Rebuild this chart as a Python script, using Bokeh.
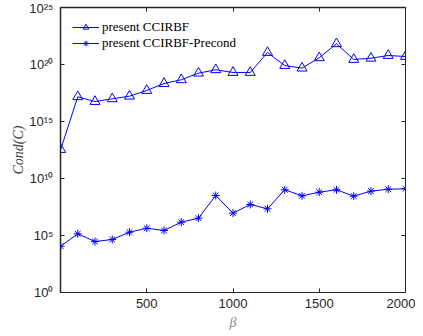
import math
from bokeh.plotting import figure
from bokeh.models import (FixedTicker, LinearAxis, LogAxis, Range1d, Legend, LegendItem,
                          CustomJSTickFormatter)
from bokeh.embed import file_html
from bokeh.resources import INLINE

# ---- data ----
beta = [1, 100, 200, 300, 400, 500, 600, 700, 800, 900, 1000,
        1100, 1200, 1300, 1400, 1500, 1600, 1700, 1800, 1900, 2000]
log_cond_ccirbf = [12.54, 17.17, 16.75, 16.99, 17.22, 17.72, 18.33, 18.66, 19.24, 19.54, 19.30,
                   19.30, 21.05, 19.91, 19.68, 20.59, 21.82, 20.44, 20.55, 20.79, 20.70]
log_cond_precond = [4.06, 5.15, 4.47, 4.65, 5.29, 5.64, 5.44, 6.17, 6.52, 8.51, 6.96,
                    7.72, 7.34, 9.01, 8.48, 8.80, 9.01, 8.45, 8.89, 9.06, 9.10]
cond_ccirbf = [10 ** v for v in log_cond_ccirbf]
cond_precond = [10 ** v for v in log_cond_precond]

x_ticks = [500, 1000, 1500, 2000]
y_ticks = [1e0, 1e5, 1e10, 1e15, 1e20, 1e25]
y_tick_labels = ["10\u2070", "10\u2075", "10\u00b9\u2070", "10\u00b9\u2075", "10\u00b2\u2070", "10\u00b2\u2075"]
series_names = ["present CCIRBF", "present CCIRBF-Precond"]
x_title = "β"
y_title = "Cond(C)"

AX = "#262626"
BLUE = "#0000ff"

p = figure(width=415, height=333, x_range=Range1d(0, 2000), y_range=Range1d(1, 1e25),
           y_axis_type="log", output_backend="svg", toolbar_location=None,
           min_border_left=60, min_border_right=10, min_border_top=7, min_border_bottom=41,
           border_fill_color=None)
p.grid.visible = False
p.outline_line_color = AX
p.outline_line_width = 1

blank = CustomJSTickFormatter(code="return ''")
ylab = CustomJSTickFormatter(args=dict(tv=y_ticks, lab=y_tick_labels), code="""
const i = tv.findIndex(t => Math.abs(Math.log10(t) - Math.log10(tick)) < 1e-6);
return i >= 0 ? lab[i] : '';
""")

# bottom axis
xa = p.xaxis[0]
xa.ticker = FixedTicker(ticks=x_ticks, minor_ticks=[])
xa.major_tick_in = 4
xa.major_tick_out = 0
xa.minor_tick_line_color = None
xa.axis_line_color = AX
xa.major_tick_line_color = AX
xa.major_label_text_font = "Liberation Sans"
xa.major_label_text_font_size = "13px"
xa.major_label_text_color = AX
xa.major_label_standoff = 6
xa.axis_label = x_title
xa.axis_label_text_font = "Liberation Serif"
xa.axis_label_text_font_style = "italic"
xa.axis_label_text_font_size = "14px"
xa.axis_label_text_color = "#8c8c8c"
xa.axis_label_standoff = 4

# left axis
ya = p.yaxis[0]
ya.ticker = FixedTicker(ticks=y_ticks, minor_ticks=[])
ya.major_tick_in = 4
ya.major_tick_out = 0
ya.minor_tick_line_color = None
ya.axis_line_color = AX
ya.axis_line_width = 1.5
ya.major_tick_line_color = AX
ya.formatter = ylab
ya.major_label_text_font = "Liberation Sans"
ya.major_label_text_font_size = "13px"
ya.major_label_text_color = AX
ya.major_label_standoff = 7
ya.axis_label = y_title
ya.axis_label_text_font = "Liberation Serif"
ya.axis_label_text_font_style = "italic"
ya.axis_label_text_font_size = "14px"
ya.axis_label_text_color = "#404040"
ya.axis_label_standoff = 0

# top and right axes: ticks only
top = LinearAxis(ticker=FixedTicker(ticks=x_ticks, minor_ticks=[]), major_tick_in=4, major_tick_out=0,
                 minor_tick_line_color=None, axis_line_color=AX, axis_line_width=1.5,
                 major_tick_line_color=AX, formatter=blank, major_label_standoff=0)
right = LogAxis(ticker=FixedTicker(ticks=y_ticks, minor_ticks=[]), major_tick_in=4, major_tick_out=0,
                minor_tick_line_color=None, axis_line_color=AX, major_tick_line_color=AX,
                formatter=blank, major_label_standoff=0)
p.add_layout(top, "above")
p.add_layout(right, "right")

# series
l1 = p.line(beta, cond_ccirbf, line_color=BLUE, line_width=1)
s1 = p.scatter(beta, cond_ccirbf, marker="triangle", size=10, line_color=BLUE, fill_alpha=0, line_width=1)
l2 = p.line(beta, cond_precond, line_color=BLUE, line_width=1)
s2 = p.scatter(beta, cond_precond, marker="asterisk", size=8, line_color=BLUE, line_width=1)

legend = Legend(items=[LegendItem(label=series_names[0], renderers=[l1, s1]),
                       LegendItem(label=series_names[1], renderers=[l2, s2])],
                location="top_left", margin=12, padding=10, spacing=0,
                glyph_width=27, glyph_height=14, label_height=14, label_standoff=3,
                label_text_font="Liberation Serif", label_text_font_size="13px",
                label_text_color="#000000", border_line_color=None,
                background_fill_color="white", background_fill_alpha=1)
p.add_layout(legend)

open("out.html", "w").write(file_html(p, INLINE))
